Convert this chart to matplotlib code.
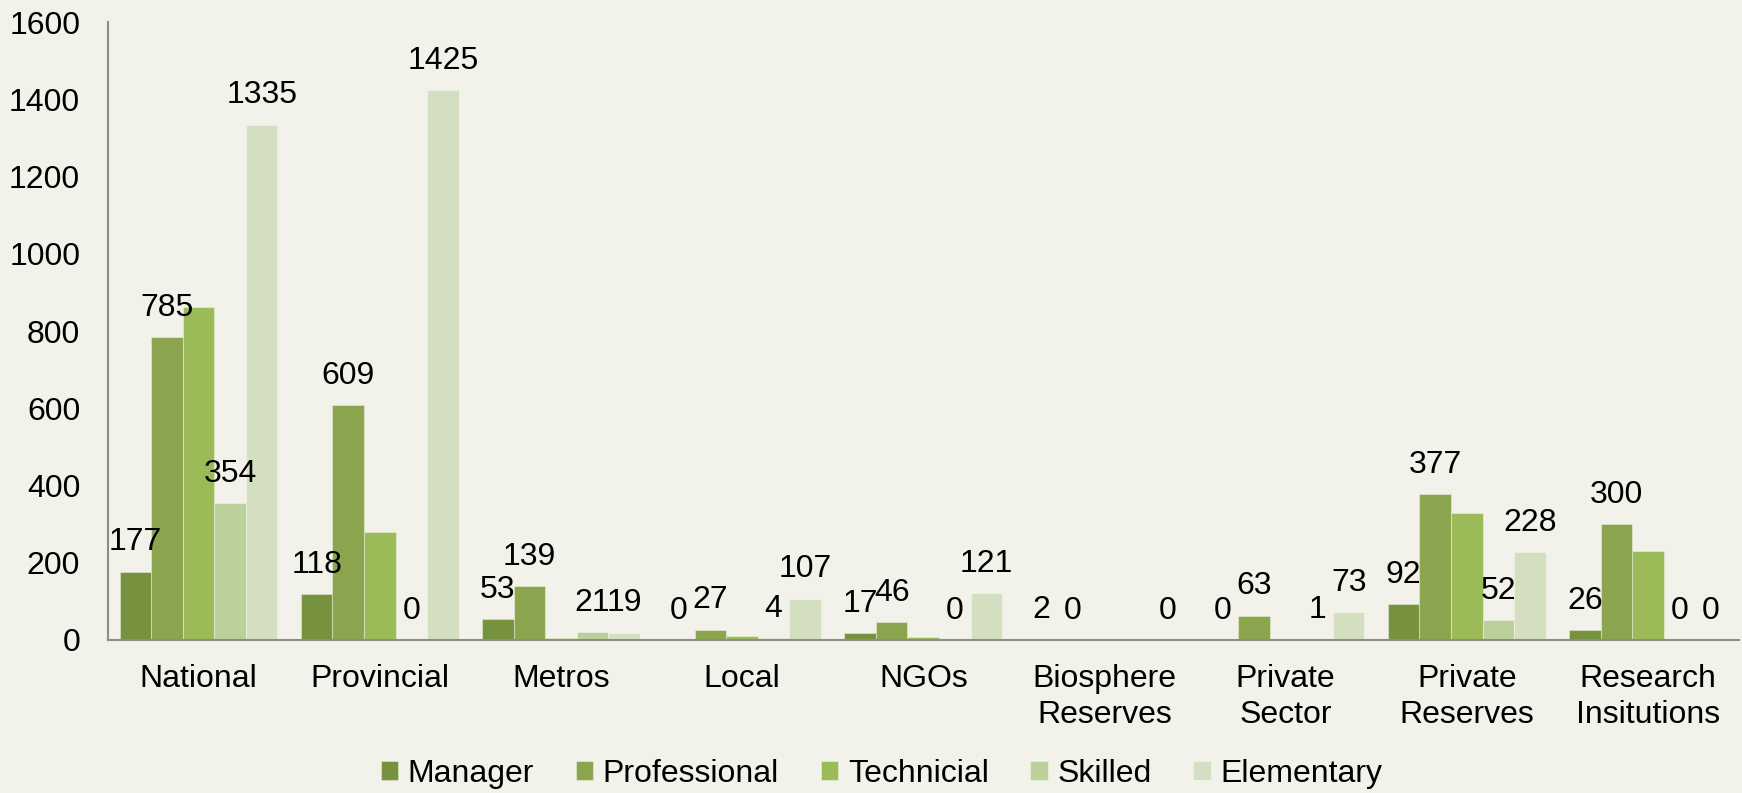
"""Grouped bar chart: staff by occupational level and sector."""
import matplotlib
matplotlib.use("Agg")
import matplotlib.pyplot as plt
import numpy as np

plt.rcParams["font.family"] = ["Liberation Sans", "DejaVu Sans"]

categories = ["National", "Provincial", "Metros", "Local", "NGOs",
              "Biosphere\nReserves", "Private\nSector", "Private\nReserves",
              "Research\nInsitutions"]
series = ["Manager", "Professional", "Technicial", "Skilled", "Elementary"]

manager = [177, 118, 53, 0, 17, 2, 0, 92, 26]
professional = [785, 609, 139, 27, 46, 0, 63, 377, 300]
technicial = [862, 279, 6, 9, 7, 0, 0, 328, 231]
skilled = [354, 0, 21, 4, 0, 0, 1, 52, 0]
elementary = [1335, 1425, 19, 107, 121, 0, 73, 228, 0]
values = [manager, professional, technicial, skilled, elementary]

# which series get value labels (Technicial has none; Biosphere skilled unlabeled)
show_label = [
    [True] * 9,
    [True] * 9,
    [False] * 9,
    [True, True, True, True, True, False, True, True, True],
    [True] * 9,
]

colors = ["#76923C", "#8AA54E", "#9BBB59", "#BBD09A", "#D3DFC0"]
bg = "#F2F2EA"
fs = 23

fig = plt.figure(figsize=(17.42, 7.93), dpi=100, facecolor=bg)
ax = fig.add_axes([0.062, 0.193, 0.936, 0.779], facecolor=bg)

x = np.arange(len(categories))
n = len(series)
width = 0.87 / n

for i, (name, vals, col) in enumerate(zip(series, values, colors)):
    pos = x - 0.435 + width * (i + 0.5)
    bars = ax.bar(pos, vals, width=width, color=col, label=name,
                  edgecolor=(1, 1, 1, 0.35), linewidth=0.8)
    for b, v, show in zip(bars, vals, show_label[i]):
        if not show:
            continue
        ax.annotate(str(v), (b.get_x() + b.get_width() / 2, b.get_height()),
                    xytext=(0, 21), textcoords="offset points",
                    ha="center", va="center", fontsize=fs, color="black")

ax.set_xlim(-0.5, len(categories) - 0.5)
ax.set_ylim(0, 1600)
ax.set_yticks(range(0, 1601, 200))
ax.set_xticks(x)
ax.set_xticklabels(categories, linespacing=1.3)
ax.tick_params(axis="both", length=0, labelsize=fs)
ax.tick_params(axis="x", pad=17)
ax.tick_params(axis="y", pad=20)

for s in ["top", "right"]:
    ax.spines[s].set_visible(False)
for s in ["left", "bottom"]:
    ax.spines[s].set_color("#8C8C8C")
    ax.spines[s].set_linewidth(1.5)

fig.legend(loc="center", bbox_to_anchor=(0.506, 0.024), ncol=5, frameon=False,
           fontsize=fs, handlelength=0.55, handleheight=0.55,
           handletextpad=0.3, columnspacing=1.3)

plt.savefig("out.png", dpi=100, facecolor=bg)
plt.close()
